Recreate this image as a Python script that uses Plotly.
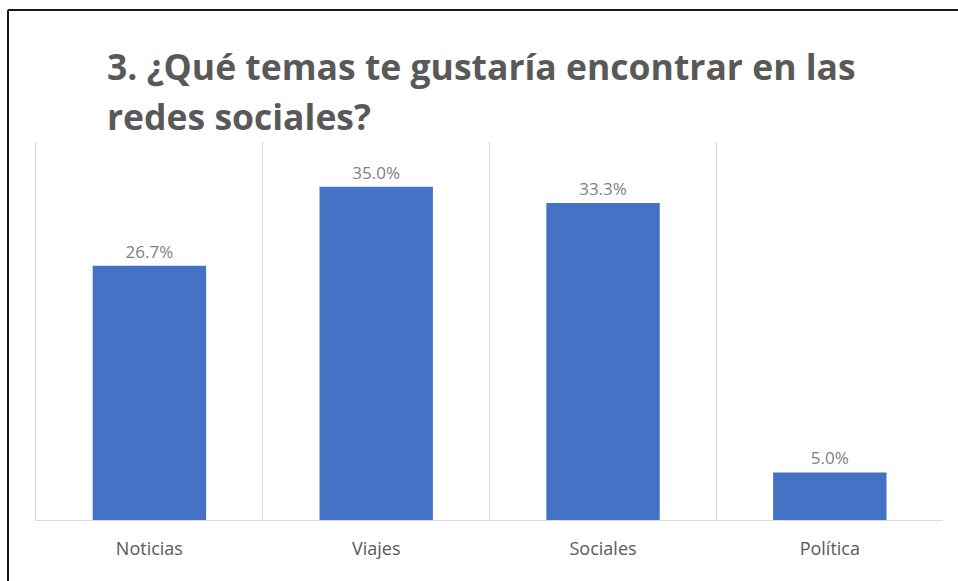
import plotly.graph_objects as go

# Survey results: preferred topics on social networks (% of respondents)
categories = ["Noticias", "Viajes", "Sociales", "Política"]
percentages = [26.7, 35.0, 33.3, 5.0]

title_lines = ["3. ¿Qué temas te gustaría encontrar en las", "redes sociales?"]

W, H = 958, 581
L, R, T, B = 36, 15, 142, 61

fig = go.Figure(
    go.Bar(
        x=categories,
        y=percentages,
        marker=dict(color="#4472C4", line=dict(width=0)),
        width=0.5,
        texttemplate="%{y:.1f}%",
        textposition="outside",
        textfont=dict(family="Open Sans", size=17, color="#7F7F7F"),
        cliponaxis=False,
        hoverinfo="skip",
    )
)

plot_w = W - L - R
plot_h = H - T - B


def px_x(p):
    return (p - L) / plot_w


def px_y(p):
    return (H - B - p) / plot_h


# two-line title, each line placed separately for a wider line spacing
title_annotations = [
    dict(
        text=line,
        xref="paper",
        yref="paper",
        x=px_x(105),
        y=px_y(top),
        xanchor="left",
        yanchor="top",
        align="left",
        showarrow=False,
        font=dict(family="Open Sans", size=35.5, color="#595959", weight="bold"),
    )
    for line, top in zip(title_lines, [40, 90])
]

fig.update_layout(
    width=W,
    height=H,
    margin=dict(l=L, r=R, t=T, b=B),
    paper_bgcolor="white",
    plot_bgcolor="white",
    showlegend=False,
    bargap=0.5,
    annotations=title_annotations,
    shapes=[
        # frame drawn around the top and left of the chart
        dict(type="line", xref="paper", yref="paper",
             x0=px_x(8), x1=px_x(960), y0=px_y(10), y1=px_y(10),
             line=dict(color="#1A1A1A", width=2)),
        dict(type="line", xref="paper", yref="paper",
             x0=px_x(8), x1=px_x(8), y0=px_y(10), y1=px_y(585),
             line=dict(color="#1A1A1A", width=2)),
    ],
)

fig.update_xaxes(
    type="category",
    range=[-0.5, 3.499],
    tickson="boundaries",
    showgrid=True,
    gridcolor="#D9D9D9",
    gridwidth=1,
    showline=True,
    linecolor="#D9D9D9",
    linewidth=1,
    ticks="",
    ticklabelstandoff=12,
    tickfont=dict(family="Open Sans", size=18, color="#595959"),
    zeroline=False,
)

fig.update_yaxes(
    range=[0, 39.7],
    showgrid=False,
    showticklabels=False,
    zeroline=False,
    showline=True,
    linecolor="#D9D9D9",
    linewidth=1,
    ticks="",
)

fig.write_html("out.html")
